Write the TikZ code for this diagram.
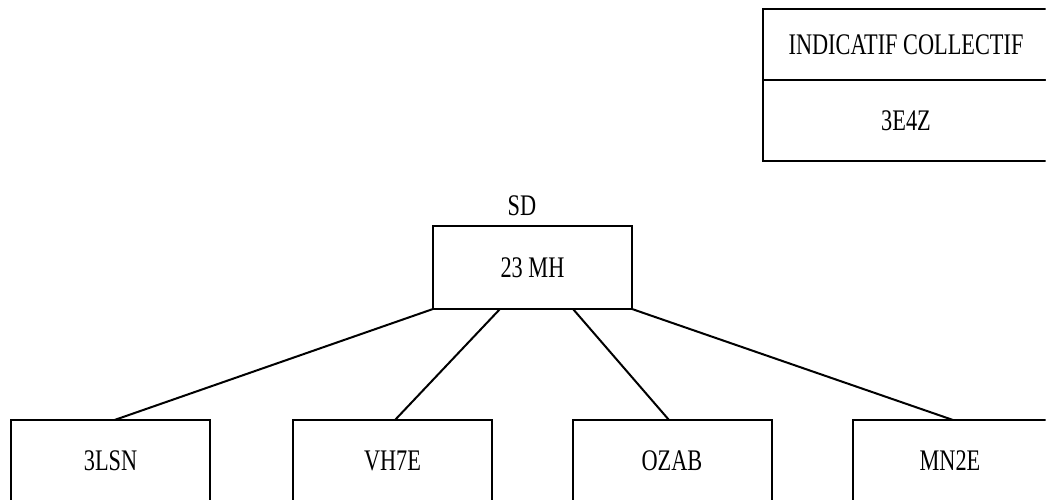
\documentclass[tikz,border=0pt]{standalone}
\usepackage{graphicx}
\usepackage{fontspec}
\setmainfont{Liberation Serif}
\newcommand\tallt[1]{\scalebox{0.97}[1.3]{#1}}
\begin{document}
\begin{tikzpicture}[x=1pt,y=-1pt,
  every node/.style={font=\fontsize{23}{26}\selectfont, inner sep=0pt, outer sep=0pt},
  box/.style={draw, line width=2pt, minimum width=199pt},
  lowbox/.style={box, anchor=base, text height=50pt, text depth=42pt},
  link/.style={line width=2pt}]
\useasboundingbox (0,0) rectangle (1047,500);
\clip (0,0) rectangle (1045.5,500);
% legend box
\node[box, minimum width=286pt, minimum height=71pt] (ic) at (906,44.5) {\tallt{INDICATIF COLLECTIF}};
\node[box, minimum width=286pt, minimum height=81pt, anchor=north] (code) at (ic.south) {\tallt{3E4Z}};
% central box
\node[box, minimum height=83pt] (c) at (532.5,267.5) {\tallt{23 MH}};
\node (sd) at (522,206) {\tallt{SD}};
% bottom boxes
\node[lowbox] (b1) at (110.5,470) {\tallt{3LSN}};
\node[lowbox] (b2) at (392.5,470) {\tallt{VH7E}};
\node[lowbox] (b3) at (672,470) {\tallt{OZAB}};
\node[lowbox, minimum width=194pt] (b4) at (950,470) {\tallt{MN2E}};
% connectors
\draw[link] (c.south west) -- ([xshift=4pt]b1.north);
\draw[link] ([xshift=-32.5pt]c.south) -- ([xshift=2.5pt]b2.north);
\draw[link] ([xshift=40.5pt]c.south) -- ([xshift=-3pt]b3.north);
\draw[link] (c.south east) -- ([xshift=3pt]b4.north);
\end{tikzpicture}
\end{document}
